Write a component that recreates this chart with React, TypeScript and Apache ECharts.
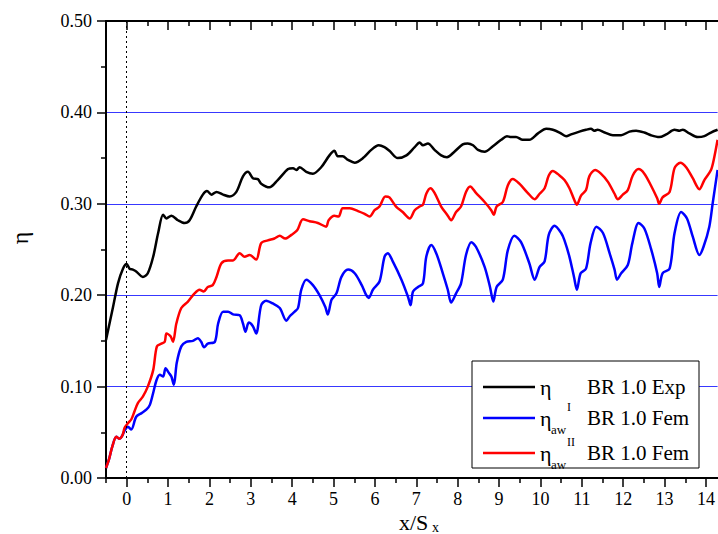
import React, { useEffect, useRef } from "react";
import * as echarts from "echarts";

const blackX = [-0.5,-0.33,-0.21,-0.09,0,0.07,0.15,0.23,0.39,0.51,0.64,0.76,0.88,0.96,1.08,1.24,1.4,1.52,1.68,1.84,1.94,2.05,2.17,2.33,2.49,2.65,2.81,2.93,3.05,3.17,3.25,3.45,3.65,3.9,4.02,4.1,4.18,4.34,4.5,4.7,4.9,5.02,5.1,5.22,5.35,5.51,5.71,5.91,6.09,6.23,6.35,6.55,6.76,6.96,7.08,7.16,7.28,7.44,7.6,7.74,7.92,8.12,8.24,8.37,8.49,8.65,8.85,9.05,9.19,9.29,9.41,9.57,9.73,9.94,10.14,10.3,10.46,10.62,10.74,10.94,11.1,11.22,11.3,11.38,11.55,11.75,11.95,12.15,12.31,12.51,12.67,12.87,13.04,13.24,13.36,13.44,13.6,13.8,13.96,14.12,14.28];
const blackY = [0.151,0.187,0.213,0.229,0.234,0.229,0.228,0.226,0.22,0.224,0.242,0.268,0.288,0.284,0.287,0.282,0.279,0.282,0.297,0.31,0.314,0.31,0.313,0.31,0.308,0.313,0.33,0.335,0.328,0.327,0.322,0.318,0.326,0.338,0.339,0.337,0.34,0.335,0.333,0.34,0.353,0.358,0.352,0.352,0.348,0.345,0.35,0.359,0.364,0.362,0.358,0.35,0.353,0.362,0.367,0.364,0.366,0.359,0.353,0.351,0.357,0.365,0.366,0.364,0.359,0.357,0.363,0.37,0.374,0.373,0.373,0.37,0.37,0.377,0.382,0.381,0.378,0.374,0.376,0.379,0.381,0.382,0.38,0.381,0.378,0.375,0.375,0.379,0.38,0.378,0.375,0.373,0.376,0.381,0.38,0.381,0.377,0.373,0.374,0.378,0.381];

const redX = [-0.5,-0.43,-0.35,-0.25,-0.17,-0.1,-0.05,0.03,0.11,0.19,0.27,0.39,0.51,0.64,0.73,0.84,0.92,0.96,1.06,1.12,1.2,1.32,1.48,1.64,1.76,1.86,1.96,2.08,2.17,2.29,2.45,2.57,2.73,2.85,2.97,3.13,3.25,3.41,3.57,3.7,3.83,3.98,4.12,4.26,4.42,4.62,4.82,4.88,5.02,5.12,5.22,5.39,5.59,5.75,5.87,5.99,6.11,6.25,6.35,6.51,6.67,6.84,6.96,7.08,7.16,7.24,7.34,7.44,7.6,7.76,7.84,7.96,8.08,8.2,8.3,8.44,8.65,8.81,8.87,8.94,9.09,9.21,9.33,9.49,9.69,9.86,9.98,10.1,10.2,10.3,10.46,10.58,10.7,10.82,10.88,10.98,11.1,11.18,11.32,11.46,11.63,11.79,11.87,11.99,12.11,12.23,12.37,12.51,12.67,12.82,12.87,12.95,13.12,13.24,13.38,13.52,13.68,13.84,13.96,14.12,14.2,14.28];
const redY = [0.011,0.02,0.034,0.045,0.043,0.047,0.055,0.06,0.064,0.073,0.082,0.089,0.1,0.118,0.144,0.147,0.149,0.158,0.155,0.149,0.169,0.186,0.193,0.202,0.206,0.204,0.209,0.211,0.22,0.235,0.238,0.238,0.246,0.242,0.244,0.239,0.257,0.26,0.262,0.265,0.262,0.266,0.271,0.283,0.281,0.279,0.275,0.282,0.287,0.286,0.295,0.295,0.292,0.289,0.286,0.293,0.297,0.308,0.307,0.297,0.291,0.284,0.293,0.297,0.299,0.311,0.317,0.312,0.297,0.287,0.282,0.291,0.297,0.313,0.319,0.312,0.302,0.293,0.288,0.297,0.302,0.32,0.327,0.322,0.312,0.305,0.311,0.317,0.331,0.336,0.331,0.326,0.317,0.304,0.299,0.309,0.315,0.33,0.337,0.333,0.324,0.311,0.305,0.31,0.315,0.331,0.338,0.333,0.32,0.306,0.3,0.307,0.313,0.339,0.345,0.34,0.328,0.316,0.326,0.337,0.351,0.37];

const blueX = [-0.5,-0.43,-0.35,-0.25,-0.17,-0.1,-0.05,0.03,0.11,0.23,0.36,0.48,0.56,0.64,0.72,0.8,0.88,0.94,1.02,1.08,1.14,1.21,1.32,1.44,1.6,1.72,1.8,1.87,1.96,2.13,2.21,2.33,2.45,2.57,2.73,2.81,2.87,2.95,3.05,3.13,3.25,3.37,3.53,3.7,3.86,3.94,4.06,4.14,4.22,4.34,4.5,4.66,4.8,4.86,4.95,5.07,5.19,5.35,5.51,5.68,5.79,5.85,5.95,6.11,6.23,6.31,6.43,6.64,6.8,6.86,6.92,7.04,7.16,7.24,7.36,7.48,7.64,7.76,7.84,7.96,8.08,8.2,8.33,8.44,8.65,8.78,8.86,8.94,9.09,9.21,9.37,9.53,9.73,9.86,9.98,10.1,10.2,10.34,10.5,10.58,10.7,10.81,10.88,10.97,11.1,11.21,11.35,11.51,11.67,11.79,11.85,11.95,12.11,12.22,12.37,12.51,12.67,12.82,12.87,12.95,13.12,13.24,13.4,13.54,13.68,13.84,13.94,14.08,14.16,14.28];
const blueY = [0.011,0.02,0.034,0.045,0.043,0.047,0.052,0.056,0.053,0.067,0.071,0.075,0.08,0.093,0.107,0.113,0.111,0.12,0.115,0.111,0.102,0.126,0.144,0.149,0.15,0.153,0.149,0.143,0.147,0.149,0.169,0.182,0.182,0.179,0.178,0.169,0.16,0.17,0.166,0.158,0.189,0.194,0.191,0.186,0.172,0.177,0.182,0.186,0.206,0.217,0.211,0.2,0.187,0.179,0.195,0.202,0.22,0.228,0.224,0.211,0.2,0.197,0.206,0.215,0.242,0.246,0.237,0.217,0.198,0.189,0.204,0.209,0.213,0.242,0.255,0.246,0.224,0.206,0.192,0.202,0.213,0.244,0.258,0.253,0.231,0.209,0.193,0.209,0.217,0.249,0.265,0.258,0.235,0.217,0.231,0.237,0.266,0.276,0.268,0.26,0.242,0.22,0.206,0.224,0.229,0.257,0.275,0.268,0.246,0.228,0.217,0.224,0.233,0.257,0.279,0.273,0.251,0.224,0.209,0.224,0.229,0.268,0.291,0.284,0.264,0.244,0.253,0.275,0.3,0.337];

const xIntTicks = [0,1,2,3,4,5,6,7,8,9,10,11,12,13,14];
const xHalfTicks = [-0.5,0.5,1.5,2.5,3.5,4.5,5.5,6.5,7.5,8.5,9.5,10.5,11.5,12.5,13.5];

const seriesNames = ["η BR 1.0 Exp", "η_aw^I BR 1.0 Fem", "η_aw^II BR 1.0 Fem"];
const seriesColors = ["#000000", "#0000ff", "#ff0000"];

const FONT = "'Liberation Serif', 'DejaVu Serif', serif";
const X_MIN = -0.5;
const X_MAX = 14.28;

function zip(xs: number[], ys: number[]) {
  return xs.map((x, i) => [x, ys[i]]);
}

export default function App() {
  const ref = useRef<HTMLDivElement>(null);
  useEffect(() => {
    document.body.style.margin = "0";
    if (!ref.current) return;
    const chart = echarts.init(ref.current, null, { renderer: "svg" });
    const baseX = {
      type: "value",
      min: X_MIN,
      max: X_MAX,
      splitLine: { show: false },
      gridIndex: 0,
    };
    const legendRows = [387, 418, 453];
    const graphics: any[] = [
      { type: "rect", shape: { x: 472, y: 361, width: 227, height: 107 }, style: { fill: "#fff", stroke: "#000", lineWidth: 1 }, z: 100 },
    ];
    legendRows.forEach((y, i) => {
      graphics.push({ type: "line", shape: { x1: 483, y1: y, x2: 535, y2: y }, style: { stroke: seriesColors[i], lineWidth: 2.5 }, z: 101 });
      graphics.push({ type: "text", x: 540, y: y, style: { text: "η", fontFamily: FONT, fontSize: 22, fill: "#000", verticalAlign: "middle" }, z: 101 });
      graphics.push({ type: "text", x: 587, y: y, style: { text: i === 0 ? "BR 1.0 Exp" : "BR 1.0 Fem", fontFamily: FONT, fontSize: 21, fill: "#000", verticalAlign: "middle" }, z: 101 });
      if (i > 0) {
        graphics.push({ type: "text", x: 551, y: y + 11, style: { text: "aw", fontFamily: FONT, fontSize: 13, fill: "#000", verticalAlign: "middle" }, z: 101 });
        graphics.push({ type: "text", x: 567, y: y - 11, style: { text: i === 1 ? "I" : "II", fontFamily: FONT, fontSize: 12, fill: "#000", verticalAlign: "middle" }, z: 101 });
      }
    });
    graphics.push({ type: "text", x: 20, y: 238, rotation: Math.PI / 2, style: { text: "η", fontFamily: FONT, fontSize: 24, fill: "#000", align: "center", verticalAlign: "middle" } });
    graphics.push({ type: "text", x: 399, y: 522, style: { text: "x/S", fontFamily: FONT, fontSize: 22, fill: "#000", verticalAlign: "middle" } });
    graphics.push({ type: "text", x: 432, y: 527, style: { text: "x", fontFamily: FONT, fontSize: 14, fill: "#000", verticalAlign: "middle" } });

    const option: any = {
      animation: false,
      backgroundColor: "#fff",
      textStyle: { fontFamily: FONT },
      grid: { left: 106, right: 0, top: 21, bottom: 56, containLabel: false },
      xAxis: [
        {
          ...baseX,
          position: "bottom",
          axisLine: { show: true, onZero: false, lineStyle: { color: "#000", width: 2 } },
          axisTick: { show: true, length: 9, customValues: xIntTicks, lineStyle: { color: "#000", width: 1.5 } },
          axisLabel: { show: true, customValues: xIntTicks, margin: 12, fontFamily: FONT, fontSize: 18, color: "#000", formatter: (v: number) => String(v) },
        },
        {
          ...baseX,
          position: "bottom",
          axisLine: { show: false, onZero: false },
          axisTick: { show: true, length: 5, customValues: xHalfTicks, lineStyle: { color: "#000", width: 1.5 } },
          axisLabel: { show: false },
        },
        {
          ...baseX,
          position: "top",
          axisLine: { show: true, onZero: false, lineStyle: { color: "#000", width: 2 } },
          axisTick: { show: true, inside: true, length: 9, customValues: xIntTicks, lineStyle: { color: "#000", width: 1.5 } },
          axisLabel: { show: false },
        },
        {
          ...baseX,
          position: "top",
          axisLine: { show: false, onZero: false },
          axisTick: { show: true, inside: true, length: 5, customValues: xHalfTicks, lineStyle: { color: "#000", width: 1.5 } },
          axisLabel: { show: false },
        },
      ],
      yAxis: {
        type: "value",
        min: 0,
        max: 0.5,
        interval: 0.1,
        position: "left",
        axisLine: { show: true, onZero: false, lineStyle: { color: "#000", width: 2 } },
        axisTick: { show: true, length: 9, lineStyle: { color: "#000", width: 1.5 } },
        minorTick: { show: true, splitNumber: 2, length: 5, lineStyle: { color: "#000", width: 1.5 } },
        axisLabel: { margin: 14, fontFamily: FONT, fontSize: 18, color: "#000", formatter: (v: number) => v.toFixed(2) },
        splitLine: { show: true, showMinLine: false, showMaxLine: false, lineStyle: { color: "#3838ff", width: 1 } },
      },
      series: [
        {
          name: seriesNames[0],
          type: "line",
          data: zip(blackX, blackY),
          showSymbol: false,
          smooth: 0.3,
          lineStyle: { color: seriesColors[0], width: 2.5 },
          itemStyle: { color: seriesColors[0] },
          markLine: {
            silent: true,
            symbol: "none",
            label: { show: false },
            lineStyle: { type: [2, 3], color: "#000", width: 1 },
            data: [{ xAxis: 0 }],
          },
        },
        {
          name: seriesNames[1],
          type: "line",
          data: zip(blueX, blueY),
          showSymbol: false,
          smooth: 0.3,
          lineStyle: { color: seriesColors[1], width: 2.5 },
          itemStyle: { color: seriesColors[1] },
        },
        {
          name: seriesNames[2],
          type: "line",
          data: zip(redX, redY),
          showSymbol: false,
          smooth: 0.3,
          lineStyle: { color: seriesColors[2], width: 2.5 },
          itemStyle: { color: seriesColors[2] },
        },
      ],
      graphic: graphics,
    };
    chart.setOption(option);
    return () => chart.dispose();
  }, []);
  return <div ref={ref} style={{ position: "fixed", left: 0, top: 0, width: 718, height: 534 }} />;
}
